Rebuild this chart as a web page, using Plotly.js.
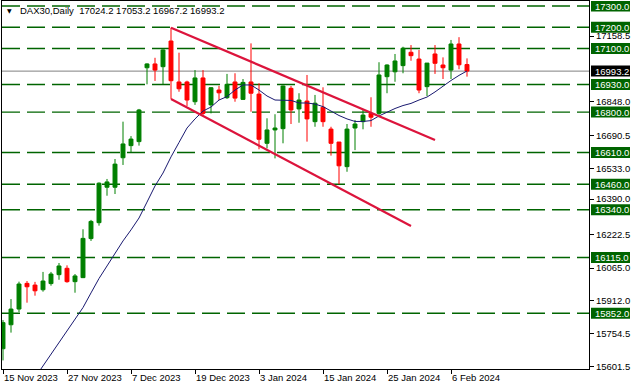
<!DOCTYPE html>
<html><head><meta charset="utf-8">
<script src="https://cdn.plot.ly/plotly-3.0.1.min.js"></script>
<style>html,body{margin:0;padding:0;background:#fff}#chart{width:635px;height:390px}</style>
</head><body><div id="chart"></div>
<script>
// Daily DAX30 bars, 15 Nov 2023 .. 8 Feb 2024 (bar index 0..58)
const openP  = [15685,15798,15872,15993,15985,15963,15992,16034,16064,16001,
                16020,16204,16279,16446,16446,16585,16642,16661,17009,17027,
                17014,17135,16942,16942,16849,16961,16834,16904,16868,16942,
                16860,16942,16885,16653,16716,16722,16912,16815,16852,16755,
                16823,16720,16659,16543,16725,16755,16794,16794,16967,16990,
                17019,17082,17050,16920,17074,17022,16998,17121,17024.2];
const highP  = [15820,15919,16001,16004,16000,16047,16047,16089,16078,16037,
                16248,16292,16469,16485,16579,16755,16687,16815,17030,17056,
                17096,17198,17080,16948,16998,16998,16918,16924,16980,16983,
                16956,17124,16936,16771,16790,16925,16923,16889,16975,16881,
                16917,16731,16659,16744,16763,16810,16870,17035,17025,17074,
                17108,17116,17093,17031,17116,17058,17140,17153,17053.2];
const lowP   = [15630,15761,15858,15902,15935,15954,15982,16010,15996,15949,
                16018,16193,16265,16406,16414,16551,16611,16642,16931,16947,
                16931,16862,16896,16829,16834,16786,16794,16857,16862,16849,
                16858,16802,16625,16629,16582,16653,16744,16750,16661,16731,
                16731,16595,16461,16519,16621,16719,16731,16776,16889,16943,
                16983,17042,16889,16876,16980,16956,16956,17002,16967.2];
const closeP = [15808,15872,15990,15977,15958,16004,16037,16075,16001,16028,
                16205,16285,16465,16471,16555,16650,16673,16810,17027,16998,
                17093,16948,16910,16857,16961,16794,16915,16891,16931,16866,
                16940,16889,16672,16716,16725,16923,16810,16857,16768,16842,
                16755,16653,16547,16720,16744,16786,16776,16975,17022,17041,
                17101,17066,16904,17031,17030,17009,17121,17023,16993.2];
// moving average (starts at bar 4)
const maStart = 4;
const maVals = [15549,15604,15655,15712,15764,15818,15879,15948,16016,16075,
                16134,16193,16245,16301,16376,16452,16513,16589,16657,16725,
                16768,16805,16824,16857,16873,16904,16928,16928,16904,16876,
                16857,16857,16855,16843,16843,16838,16826,16805,16784,16768,
                16756,16756,16760,16782,16801,16817,16831,16841,16857,16871,
                16895,16923,16949,16973,16994];
// trend lines (bar index, price)
const upLineX = [21, 54];  const upLineY = [17198, 16669];
const dnLineX = [21, 51];  const dnLineY = [16862, 16263];
// horizontal levels
const levels = [17300,17200,17100,16930,16800,16610,16460,16340,16115,15852];
const lastPrice = 16993.2;
// axis labels
const yTicks = [17158.5,16848.0,16690.5,16533.0,16390.0,16222.5,16065.0,15912.0,15754.5,15601.5];
const xTickPos = [0,8,16,24,32,40,48,56];
const xTickText = ["15 Nov 2023","27 Nov 2023","7 Dec 2023","19 Dec 2023","3 Jan 2024","15 Jan 2024","25 Jan 2024","6 Feb 2024"];
const headerText = "DAX30,Daily  17024.2 17053.2 16967.2 16993.2";

const FONT = "Liberation Sans, Arial, sans-serif";
const GREEN = "#008000", RED = "#FF0000", LVL = "#006400";
const idx = openP.map((_, i) => i);
const maX = maVals.map((_, i) => i + maStart);

const traces = [
  {type:'candlestick', x: idx, open: openP, high: highP, low: lowP, close: closeP,
   increasing:{line:{color:GREEN,width:1}, fillcolor:GREEN},
   decreasing:{line:{color:RED,width:1}, fillcolor:RED},
   whiskerwidth:0, hoverinfo:'skip', showlegend:false},
  {type:'scatter', mode:'lines', x: maX, y: maVals, line:{color:'#191970',width:1},
   hoverinfo:'skip', showlegend:false},
  {type:'scatter', mode:'lines', x: upLineX, y: upLineY, line:{color:'#DC143C',width:2.2},
   hoverinfo:'skip', showlegend:false},
  {type:'scatter', mode:'lines', x: dnLineX, y: dnLineY, line:{color:'#DC143C',width:2.2},
   hoverinfo:'skip', showlegend:false}
];

const shapes = levels.map(v => ({type:'line', xref:'paper', x0:0, x1:1, yref:'y', y0:v, y1:v,
  line:{color:LVL, width:1.4, dash:'18px,7px'}, layer:'below'}));
shapes.push({type:'line', xref:'paper', x0:0, x1:1, yref:'y', y0:lastPrice, y1:lastPrice,
  line:{color:'#808080', width:1}, layer:'below'});
// label boxes on the price scale
function labelBox(v, col) {
  return {type:'rect', xref:'paper', xsizemode:'pixel', xanchor:1, x0:2, x1:41,
    yref:'y', ysizemode:'pixel', yanchor:v, y0:-5.5, y1:5.5,
    fillcolor:col, line:{width:0}, layer:'above'};
}
levels.forEach(v => shapes.push(labelBox(v, LVL)));
shapes.push(labelBox(lastPrice, '#000'));

const annotations = levels.map(v => ({xref:'paper', x:1, xanchor:'left', xshift:5,
  yref:'y', y:v, yanchor:'middle', text: v.toFixed(1), showarrow:false,
  font:{family:FONT, size:9.5, color:'#fff'}, borderpad:0}));
annotations.push({xref:'paper', x:1, xanchor:'left', xshift:5, yref:'y', y:lastPrice,
  yanchor:'middle', text:lastPrice.toFixed(1), showarrow:false,
  font:{family:FONT, size:9.5, color:'#fff'}, borderpad:0});
annotations.push({xref:'paper', x:0, xanchor:'left', xshift:16, yref:'paper', y:1,
  yanchor:'middle', yshift:-9, text:headerText, showarrow:false,
  font:{family:FONT, size:9.5, color:'#000'}});
annotations.push({xref:'paper', x:0, xanchor:'left', xshift:3, yref:'paper', y:1,
  yanchor:'middle', yshift:-9, text:'▼', showarrow:false,
  font:{family:'DejaVu Sans', size:6, color:'#000'}});

const layout = {
  width:635, height:390,
  margin:{l:2, r:46, t:1, b:21, pad:0},
  paper_bgcolor:'#fff', plot_bgcolor:'#fff',
  showlegend:false,
  xaxis:{range:[-0.125, 73.25], showgrid:false, zeroline:false, rangeslider:{visible:false},
    tickmode:'array', tickvals:xTickPos, ticktext:xTickText, ticks:'outside', ticklen:4,
    tickcolor:'#000', ticklabelposition:'outside right', showline:true, mirror:true,
    linecolor:'#000', linewidth:1, tickfont:{family:FONT, size:9.5, color:'#000'}, fixedrange:true},
  yaxis:{range:[15589.5, 17323.6], side:'right', showgrid:false, zeroline:false,
    tickmode:'array', tickvals:yTicks, ticktext:yTicks.map(v=>v.toFixed(1)), ticks:'outside', ticklen:4,
    tickcolor:'#000', showline:true, mirror:true, linecolor:'#000', linewidth:1,
    tickfont:{family:FONT, size:9.5, color:'#000'}, fixedrange:true},
  shapes: shapes,
  annotations: annotations,
  boxgap:0.3
};
Plotly.newPlot('chart', traces, layout, {staticPlot:true, displayModeBar:false});
</script></body></html>
